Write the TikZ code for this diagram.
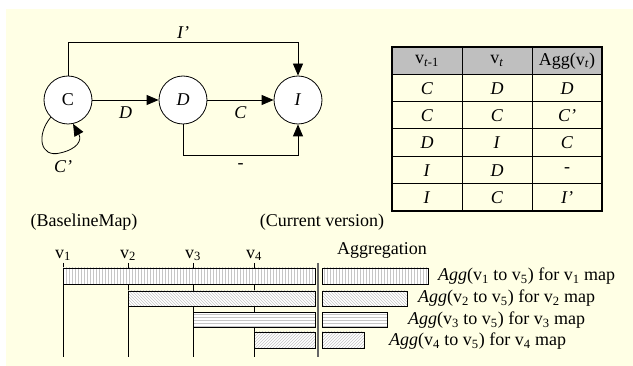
\documentclass[tikz,border=0pt]{standalone}
\usepackage{fontspec}
\setmainfont{Liberation Serif}
\usepackage{xcolor}
\usetikzlibrary{arrows.meta,patterns}
\definecolor{paper}{RGB}{255,255,229}

\begin{document}
\begin{tikzpicture}[x=1pt, y=-1pt,
    font=\fontsize{18}{20}\selectfont,
    state/.style={draw, circle, fill=white, minimum size=48pt, inner sep=0pt, line width=0.8pt},
    arrow/.style={-{Triangle[length=12pt,width=10pt]}, line width=0.8pt},
    cell/.style={inner sep=0pt},
    bar/.style={draw, line width=0.8pt, preaction={fill=white}, pattern color=gray!45},
    tick/.style={line width=0.6pt}
]
\useasboundingbox (0,0) rectangle (633,366);
\fill[paper] (6,9) rectangle (633,366);

% state graph
\node[state] (C) at (68,100) {C};
\node[state] (D) at (183,100) {\textit{D}};
\node[state] (I) at (298,100) {\textit{I}};

\draw[arrow] (C) -- node[below=3pt] (lD) {\textit{D}} (D);
\draw[arrow] (D) -- node[below=3pt] (lC) {\textit{C}} (I);
\draw[arrow] (C.north) -- ++(0,-33) -| node[pos=0.25, above] (lI) {\textit{I’}} (I.north);
\draw[arrow] (D.south) -- ++(0,31) -| node[pos=0.25, below=4pt] (lnone) {-} (I.south);
\draw[arrow] (C.225) .. controls (36,135) and (40,158) .. (60,153)
    .. controls (78,149) and (82,140) .. (C.-78);
\node (lCp) at (63,167) {\textit{C’}};

% transition table
\fill[gray!50] (392,47) rectangle (602,74.3);
\foreach \y in {74.3,101.6,128.9,156.2,183.5}
  \draw[line width=1pt] (392,\y) -- (602,\y);
\foreach \x in {462,532}
  \draw[line width=1pt] (\x,47) -- (\x,211);
\draw[line width=1.4pt] (392,47) rectangle (602,211);

\node[cell] (h1) at (427,61) {v\textsubscript{\textit{t}-1}};
\node[cell] (h2) at (497,61) {v\textsubscript{\textit{t}}};
\node[cell] (h3) at (567,61) {Agg(v\textsubscript{\textit{t}})};
\foreach \a/\b/\c [count=\r] in {C/D/D, C/C/C’, D/I/C, I/D/-, I/C/I’} {
  \node[cell] (r\r a) at (427,{61+27.33*\r}) {\textit{\a}};
  \node[cell] (r\r b) at (497,{61+27.33*\r}) {\textit{\b}};
  \node[cell] (r\r c) at (567,{61+27.33*\r}) {\textit{\c}};
}

% version bars
\node (base) at (84,222) {(BaselineMap)};
\node (curr) at (322,222) {(Current version)};
\node (aggr) at (382,250) {Aggregation};

\foreach \x/\n in {63/1,128/2,193/3,254/4} {
  \draw[tick] (\x,263) -- (\x,357);
  \node[anchor=south, inner sep=1pt] (v\n) at (\x,262) {v\textsubscript{\n}};
}
\draw[gray!80!black, line width=1.5pt] (318,263) -- (318,357);

\draw[bar, pattern=vertical lines] (63,268) rectangle (315,284);
\draw[bar, pattern=north west lines] (128,291) rectangle (315,306);
\draw[bar, pattern=horizontal lines] (193,312) rectangle (315,327);
\draw[bar, pattern=north east lines] (254,332) rectangle (315,348);

\draw[bar, pattern=vertical lines] (322,268) rectangle (428,284);
\draw[bar, pattern=north west lines] (322,291) rectangle (407,306);
\draw[bar, pattern=horizontal lines] (322,312) rectangle (387,327);
\draw[bar, pattern=north east lines] (322,332) rectangle (364,348);

\node[anchor=west, inner sep=0pt] (a1) at (438,276) {\textit{Agg}(v\textsubscript{1} to v\textsubscript{5}) for v\textsubscript{1} map};
\node[anchor=west, inner sep=0pt] (a2) at (418,298) {\textit{Agg}(v\textsubscript{2} to v\textsubscript{5}) for v\textsubscript{2} map};
\node[anchor=west, inner sep=0pt] (a3) at (408,320) {\textit{Agg}(v\textsubscript{3} to v\textsubscript{5}) for v\textsubscript{3} map};
\node[anchor=west, inner sep=0pt] (a4) at (389,341) {\textit{Agg}(v\textsubscript{4} to v\textsubscript{5}) for v\textsubscript{4} map};
\end{tikzpicture}
\end{document}
